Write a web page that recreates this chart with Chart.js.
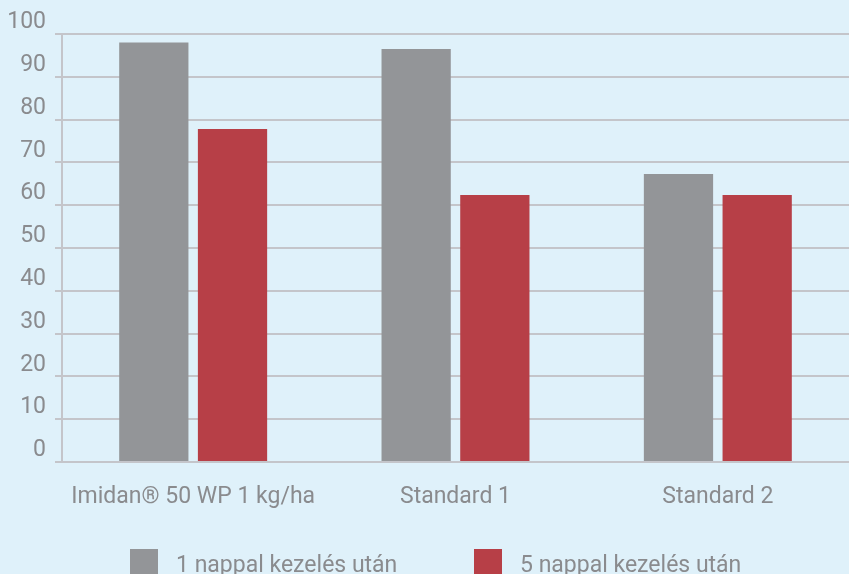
<!DOCTYPE html>
<html>
<head>
<meta charset="utf-8">
<script src="https://cdn.jsdelivr.net/npm/chart.js@4.4.1/dist/chart.umd.min.js"></script>
<style>
  html, body { margin: 0; padding: 0; background: #dff1fa; overflow: hidden; }
  #wrap { position: relative; width: 849px; height: 574px; }
  #legend { position: absolute; left: 0; top: 549px; width: 849px; height: 40px; font-family: Roboto, "Liberation Sans", sans-serif; font-weight: 400; font-size: 23px; color: #8a8b8e; }
  .item { position: absolute; top: 0; display: flex; align-items: flex-start; }
  .box { width: 28px; height: 28px; margin-right: 18px; }
  .txt { line-height: 28px; margin-top: 2px; white-space: nowrap; }
</style>
</head>
<body>
<div id="wrap">
  <canvas id="c" width="849" height="574"></canvas>
  <div id="legend"></div>
</div>
<script>
const categories = ["Imidan\u00ae 50 WP 1 kg/ha", "Standard 1", "Standard 2"];
const seriesNames = ["1 nappal kezelés után", "5 nappal kezelés után"];
const day1Values = [98, 96.5, 67.3];
const day5Values = [77.8, 62.4, 62.4];
const yTicks = [0, 10, 20, 30, 40, 50, 60, 70, 80, 90, 100];
const colors = ["#939598", "#b73f47"];

const textColor = "#8a8b8e";
const gridColor = "#c4c5ca";
const fontFamily = 'Roboto, "Liberation Sans", sans-serif';

new Chart(document.getElementById("c"), {
  type: "bar",
  data: {
    labels: categories,
    datasets: [
      { label: seriesNames[0], data: day1Values, backgroundColor: colors[0], borderWidth: 0 },
      { label: seriesNames[1], data: day5Values, backgroundColor: colors[1], borderWidth: 0 }
    ]
  },
  options: {
    responsive: false,
    animation: false,
    devicePixelRatio: 1,
    layout: { padding: { top: 34, right: 0, left: 0, bottom: 0 } },
    datasets: { bar: { categoryPercentage: 0.6, barPercentage: 0.88 } },
    plugins: { legend: { display: false }, tooltip: { enabled: false } },
    scales: {
      x: {
        grid: { display: false },
        border: { display: false },
        ticks: { color: textColor, font: { family: fontFamily, size: 23, weight: 400 }, padding: 13, maxRotation: 0, autoSkip: false },
        afterFit: s => { s.height = 112; s.paddingLeft = 0; s.paddingRight = 0; }
      },
      y: {
        min: 0, max: 100,
        afterBuildTicks: s => { s.ticks = yTicks.map(v => ({ value: v })); },
        grid: { color: gridColor, lineWidth: 2, tickLength: 7 },
        border: { display: true, color: gridColor, width: 2 },
        ticks: { color: textColor, font: { family: fontFamily, size: 23, weight: 400 }, padding: 9, align: "end" },
        afterFit: s => { s.width = 62; s.paddingTop = 0; s.paddingBottom = 0; }
      }
    }
  }
});

const legend = document.getElementById("legend");
const lefts = [130, 474];
seriesNames.forEach((name, i) => {
  const it = document.createElement("div");
  it.className = "item";
  it.style.left = lefts[i] + "px";
  const b = document.createElement("div");
  b.className = "box";
  b.style.background = colors[i];
  const t = document.createElement("div");
  t.className = "txt";
  t.textContent = name;
  it.appendChild(b); it.appendChild(t);
  legend.appendChild(it);
});
</script>
</body>
</html>
